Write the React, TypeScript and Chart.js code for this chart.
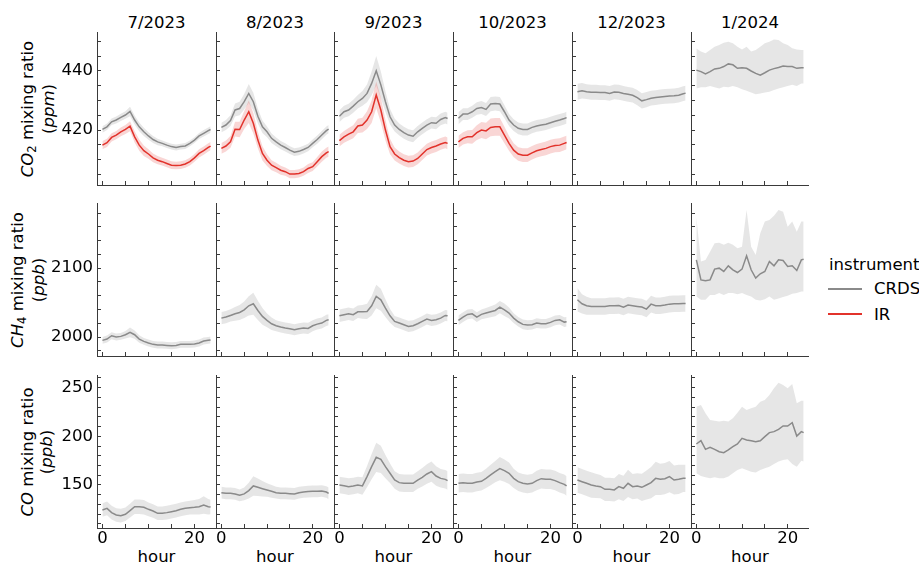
import React, { useEffect, useRef } from 'react';
import { Chart, registerables } from 'chart.js';

Chart.register(...registerables);

const FONT = "'DejaVu Sans', sans-serif";
const FS = 16.5;
const AXIS = '#3a3a3a';
const GRAY = { line: '#8a8a8a', band: 'rgba(128,128,128,0.2)' };
const RED = { line: '#e2322b', band: 'rgba(226,50,43,0.2)' };

// ---------- categories / ticks ----------
const HOURS = [0, 1, 2, 3, 4, 5, 6, 7, 8, 9, 10, 11, 12, 13, 14, 15, 16, 17, 18, 19, 20, 21, 22, 23, 23.5];
const MONTHS = ['7/2023', '8/2023', '9/2023', '10/2023', '12/2023', '1/2024'];
const X_TICKS = [0, 5, 10, 15, 20];
const X_LABELS = [0, 20];
const CO2_TICKS = [405, 410, 415, 420, 425, 430, 435, 440, 445, 450];
const CO2_LABELS = [420, 440];
const CH4_TICKS = [1980, 2000, 2020, 2040, 2060, 2080, 2100, 2120, 2140, 2160, 2180];
const CH4_LABELS = [2000, 2100];
const CO_TICKS = [110, 120, 130, 140, 150, 160, 170, 180, 190, 200, 210, 220, 230, 240, 250, 260];
const CO_LABELS = [150, 200, 250];

// ---------- CO2 (ppm) ----------
const CO2_JUL_CRDS = [420.2, 421.1, 422.8, 423.4, 424.3, 425.1, 426.3, 423.4, 421.1, 419.4, 418.0, 416.8, 416.0, 415.5, 414.9, 414.4, 414.1, 414.4, 414.6, 415.5, 416.6, 418.0, 418.9, 419.8, 420.2];
const CO2_JUL_CRDS_SD = [1.1, 1.1, 1.1, 1.2, 1.2, 1.3, 1.6, 1.5, 1.5, 1.4, 1.3, 1.2, 1.1, 1.0, 1.0, 1.0, 1.0, 1.0, 1.0, 1.0, 1.0, 1.0, 1.1, 1.1, 1.1];
const CO2_JUL_IR = [414.9, 415.7, 417.5, 418.3, 419.4, 420.2, 421.3, 417.7, 414.9, 413.0, 411.9, 410.6, 409.8, 409.3, 408.7, 408.1, 408.0, 408.1, 408.5, 409.3, 410.6, 412.1, 413.0, 414.1, 414.6];
const CO2_JUL_IR_SD = [1.4, 1.4, 1.4, 1.4, 1.5, 1.5, 1.7, 1.9, 1.9, 1.8, 1.6, 1.5, 1.4, 1.3, 1.3, 1.3, 1.3, 1.3, 1.3, 1.3, 1.3, 1.4, 1.4, 1.4, 1.4];

const CO2_AUG_CRDS = [420.9, 421.7, 423.2, 426.8, 427.3, 429.6, 432.4, 429.6, 424.7, 421.1, 419.4, 417.2, 416.0, 414.9, 414.1, 413.2, 412.5, 412.8, 413.4, 414.1, 415.5, 416.8, 418.3, 419.8, 420.3];
const CO2_AUG_CRDS_SD = [1.6, 1.7, 1.8, 2.2, 2.3, 2.6, 3.2, 3.0, 2.5, 2.1, 1.8, 1.6, 1.5, 1.4, 1.4, 1.3, 1.3, 1.3, 1.3, 1.3, 1.3, 1.4, 1.4, 1.4, 1.4];
const CO2_AUG_IR = [413.8, 414.6, 416.0, 420.3, 420.2, 423.4, 426.2, 422.3, 416.6, 412.1, 409.8, 408.1, 407.3, 406.4, 405.9, 405.1, 405.1, 405.3, 405.9, 407.0, 407.6, 409.3, 411.0, 412.3, 412.7];
const CO2_AUG_IR_SD = [1.8, 1.9, 2.0, 2.5, 2.6, 3.0, 3.8, 3.5, 2.8, 2.4, 2.0, 1.7, 1.6, 1.5, 1.4, 1.4, 1.4, 1.4, 1.4, 1.5, 1.5, 1.6, 1.7, 1.7, 1.7];

const CO2_SEP_CRDS = [424.7, 426.2, 426.8, 428.1, 429.6, 430.7, 432.4, 435.8, 440.1, 435.3, 429.6, 424.5, 421.7, 420.2, 419.1, 418.3, 417.9, 419.4, 420.6, 421.7, 422.5, 422.3, 423.6, 424.2, 423.9];
const CO2_SEP_CRDS_SD = [2.0, 2.0, 2.1, 2.2, 2.3, 2.5, 3.0, 4.0, 5.0, 4.5, 3.5, 2.6, 2.2, 2.0, 2.0, 2.0, 2.0, 2.0, 2.0, 2.0, 2.0, 2.0, 2.0, 2.0, 2.0];
const CO2_SEP_IR = [416.4, 417.7, 418.6, 419.4, 421.4, 421.7, 423.4, 426.2, 431.9, 426.8, 420.0, 414.4, 411.9, 410.7, 409.8, 409.3, 409.5, 410.4, 411.9, 413.4, 414.1, 414.6, 415.3, 415.8, 415.5];
const CO2_SEP_IR_SD = [2.0, 2.0, 2.1, 2.2, 2.4, 2.5, 3.0, 3.8, 4.5, 4.2, 3.5, 2.6, 2.2, 2.0, 2.0, 2.0, 2.0, 2.0, 2.0, 2.0, 2.0, 2.0, 2.0, 2.0, 2.0];

const CO2_OCT_CRDS = [424.0, 425.4, 425.4, 426.2, 427.3, 427.6, 427.0, 428.8, 429.0, 428.8, 426.2, 423.4, 421.7, 420.6, 420.2, 420.2, 420.9, 421.4, 421.7, 422.0, 422.5, 423.0, 423.4, 423.9, 424.2];
const CO2_OCT_CRDS_SD = [2.0, 2.0, 2.0, 2.0, 2.1, 2.2, 2.2, 2.4, 2.4, 2.4, 2.2, 2.0, 2.0, 2.0, 2.0, 2.0, 2.0, 2.0, 2.0, 2.0, 2.0, 2.0, 2.0, 2.0, 2.0];
const CO2_OCT_IR = [416.0, 417.2, 417.7, 417.7, 419.1, 420.0, 419.7, 420.9, 421.1, 421.1, 418.3, 415.5, 413.2, 411.9, 411.5, 411.5, 412.3, 413.0, 413.4, 413.8, 414.4, 414.8, 414.9, 415.5, 415.8];
const CO2_OCT_IR_SD = [2.1, 2.1, 2.2, 2.3, 2.5, 2.7, 2.8, 3.0, 3.0, 3.0, 2.8, 2.5, 2.3, 2.3, 2.3, 2.3, 2.3, 2.3, 2.3, 2.3, 2.3, 2.3, 2.3, 2.3, 2.3];

const CO2_DEC_CRDS = [433.0, 433.3, 433.0, 432.8, 432.8, 432.7, 432.7, 432.4, 432.9, 432.8, 432.4, 432.1, 431.8, 431.0, 429.9, 430.3, 430.8, 431.0, 431.2, 431.4, 431.5, 431.6, 431.8, 432.3, 432.5];
const CO2_DEC_CRDS_SD = [2.7, 2.6, 2.5, 2.5, 2.5, 2.5, 2.5, 2.5, 2.5, 2.5, 2.5, 2.5, 2.5, 2.6, 2.6, 2.6, 2.5, 2.5, 2.5, 2.5, 2.5, 2.5, 2.5, 2.5, 2.5];

const CO2_JAN_CRDS = [440.3, 439.8, 439.0, 439.8, 440.7, 440.9, 441.5, 442.4, 442.1, 440.9, 441.1, 440.9, 440.0, 439.2, 438.6, 439.4, 440.3, 440.8, 441.2, 441.7, 441.5, 441.5, 440.9, 441.1, 441.1];
const CO2_JAN_CRDS_HI = [447.6, 446.6, 446.0, 447.1, 448.2, 448.8, 449.6, 449.9, 449.4, 448.2, 447.3, 448.2, 446.6, 447.1, 448.2, 449.4, 449.9, 450.7, 450.5, 449.4, 448.8, 447.7, 447.3, 447.1, 447.1];
const CO2_JAN_CRDS_LO = [434.1, 434.5, 434.5, 434.9, 434.5, 434.1, 434.7, 434.5, 434.9, 434.5, 433.8, 433.3, 432.7, 432.1, 432.4, 432.7, 433.0, 433.6, 434.1, 434.5, 434.9, 435.3, 434.9, 435.8, 435.8];

// ---------- CH4 (ppb) ----------
const CH4_JUL = [1995.2, 1997.1, 2001.9, 2000.0, 2001.0, 2003.4, 2006.8, 2003.4, 1997.1, 1993.7, 1991.3, 1989.4, 1988.4, 1988.4, 1987.9, 1987.4, 1987.9, 1989.4, 1989.4, 1989.4, 1989.9, 1991.3, 1994.2, 1995.2, 1995.7];
const CH4_JUL_SD = [5, 5, 5, 5, 5, 5.5, 7, 6, 5.5, 5, 5, 5, 5, 5, 5, 5, 5, 5, 5, 5, 5, 5, 5, 5, 5];
const CH4_AUG = [2027.5, 2029.0, 2031.4, 2033.8, 2035.7, 2039.6, 2045.4, 2048.3, 2038.6, 2030.0, 2024.2, 2019.3, 2016.4, 2014.5, 2013.0, 2012.1, 2010.6, 2012.1, 2013.0, 2012.6, 2016.4, 2018.8, 2020.3, 2024.2, 2025.1];
const CH4_AUG_SD = [9, 9, 9, 10, 11, 12, 14, 16, 14, 12, 10, 9, 8, 8, 8, 8, 8, 8, 8, 8, 8, 8, 8, 8, 8];
const CH4_SEP = [2030.9, 2032.4, 2033.8, 2032.4, 2036.7, 2036.7, 2037.2, 2045.4, 2058.9, 2054.1, 2042.0, 2030.9, 2022.7, 2020.3, 2017.9, 2015.5, 2016.4, 2019.3, 2022.7, 2026.1, 2024.2, 2025.1, 2027.5, 2031.4, 2030.9];
const CH4_SEP_SD = [9, 9, 9, 9, 9, 10, 11, 14, 17, 16, 13, 10, 8, 8, 8, 8, 8, 8, 8, 8, 8, 8, 8, 8, 8];
const CH4_OCT = [2024.2, 2029.0, 2032.9, 2033.8, 2029.0, 2032.9, 2034.8, 2036.7, 2038.6, 2043.5, 2039.6, 2034.8, 2027.5, 2022.2, 2018.4, 2017.4, 2017.9, 2020.3, 2019.3, 2019.3, 2021.3, 2024.2, 2025.1, 2021.7, 2022.2];
const CH4_OCT_SD = [7, 7, 7, 7, 7, 7, 7.5, 8, 8.5, 9, 9, 8, 7, 7, 7, 7, 7, 7, 7, 7, 7, 7, 7, 7, 7];
const CH4_DEC = [2054.1, 2048.3, 2045.4, 2044.4, 2044.4, 2044.4, 2044.4, 2045.4, 2045.4, 2045.9, 2043.5, 2046.4, 2045.4, 2044.4, 2043.5, 2040.6, 2047.8, 2045.4, 2045.4, 2046.4, 2047.8, 2048.3, 2048.3, 2048.8, 2048.8];
const CH4_DEC_SD = [17, 14, 13, 12, 12, 12, 12, 12, 12, 12, 12, 12, 12, 12, 12, 12, 12, 12, 12, 12, 12, 12, 12, 12, 12];
const CH4_JAN = [2112.0, 2083.0, 2081.6, 2083.0, 2098.6, 2100.0, 2095.2, 2103.4, 2097.6, 2093.7, 2098.6, 2117.9, 2097.6, 2085.5, 2091.8, 2095.2, 2109.7, 2103.4, 2112.1, 2111.1, 2102.4, 2103.4, 2096.6, 2112.0, 2113.0];
const CH4_JAN_HI = [2174, 2109.7, 2112, 2124, 2136, 2137, 2134, 2137, 2134, 2129, 2131, 2184.5, 2131, 2119, 2150.7, 2167.6, 2170, 2176, 2184.5, 2182, 2160, 2167.6, 2153, 2167.6, 2167.6];
const CH4_JAN_LO = [2059, 2054, 2054, 2061, 2061, 2063.8, 2061, 2063.8, 2063.8, 2062.3, 2063.8, 2061, 2059, 2054, 2053, 2055, 2059, 2054, 2056, 2058, 2060, 2062.8, 2063.8, 2066, 2066];

// ---------- CO (ppb) ----------
const CO_JUL = [124.3, 126.0, 121.6, 119.2, 118.5, 119.9, 123.6, 127.7, 127.7, 127.1, 125.0, 123.3, 120.9, 120.9, 121.6, 122.6, 123.6, 125.0, 126.0, 126.7, 127.1, 127.7, 129.5, 127.7, 127.4];
const CO_JUL_SD = [7, 7, 7, 7, 7, 7, 7, 7.5, 7.5, 7.5, 7, 7, 7, 7, 7, 7, 7, 7, 7, 7, 7.5, 8, 9, 8, 7.5];
const CO_AUG = [142.1, 141.4, 141.4, 140.8, 139.4, 140.8, 144.2, 149.0, 147.6, 146.2, 144.9, 143.5, 142.1, 141.4, 141.4, 141.1, 140.8, 142.1, 142.8, 143.2, 143.5, 143.5, 143.8, 142.8, 141.4];
const CO_AUG_SD = [6, 6, 6, 6, 6, 6.5, 8, 10, 9, 8, 7, 6.5, 6, 6, 6, 6, 6, 6, 6, 6, 6, 6, 6, 6, 6];
const CO_SEP = [150.0, 149.3, 148.3, 149.0, 150.0, 149.0, 158.6, 168.8, 178.4, 176.4, 168.8, 162.0, 155.1, 152.4, 151.7, 151.7, 151.7, 155.1, 157.9, 161.3, 163.7, 159.2, 156.8, 155.8, 154.5];
const CO_SEP_SD = [8.5, 8.5, 8.5, 8.5, 8.5, 9, 11, 13, 15, 14, 12, 10, 9, 9, 9, 9, 9, 9, 9.5, 10, 10.5, 10, 9.5, 9.5, 9.5];
const CO_OCT = [151.7, 152.4, 151.7, 151.7, 153.1, 153.8, 156.8, 160.3, 163.7, 166.8, 164.7, 162.0, 156.8, 153.4, 151.7, 151.0, 151.7, 154.5, 156.5, 155.8, 155.8, 154.5, 152.4, 150.7, 149.0];
const CO_OCT_SD = [9.5, 9.5, 9.5, 9.5, 9.5, 9.5, 10, 10.5, 11, 12, 11.5, 11, 10, 9.5, 9.5, 9.5, 9.5, 10, 10, 10, 10, 10, 10, 10, 10];
const CO_DEC = [155.1, 153.4, 151.7, 150.0, 149.0, 148.3, 145.5, 145.5, 144.9, 148.3, 146.6, 151.7, 148.3, 149.0, 147.6, 150.0, 152.4, 156.8, 155.8, 156.5, 158.6, 155.1, 155.8, 156.8, 156.8];
const CO_DEC_SD = [13, 13, 13, 13, 12.5, 12, 12, 12, 12, 13, 13, 14, 13, 13, 14, 15, 16, 17, 16, 16, 16, 15, 15, 14, 14];
const CO_JAN = [192.1, 195.5, 186.6, 188.7, 186.6, 184.2, 183.2, 186.0, 189.4, 192.1, 197.9, 196.2, 195.5, 194.5, 195.5, 199.7, 203.8, 204.8, 207.2, 210.6, 210.6, 214.0, 200.3, 204.8, 203.8];
const CO_JAN_HI = [230.5, 232.2, 223.6, 216.8, 216.1, 215.1, 216.1, 215.1, 218.5, 224.3, 230.5, 227.1, 228.8, 230.5, 235.6, 237.3, 242.5, 249.3, 255.1, 252.7, 249.3, 253.8, 233.9, 236.6, 236.6];
const CO_JAN_LO = [162.0, 159.2, 157.9, 156.8, 157.9, 156.8, 156.8, 158.6, 162.0, 165.4, 167.1, 165.4, 163.7, 162.7, 165.4, 167.1, 168.8, 171.6, 174.0, 175.7, 176.4, 171.6, 168.8, 175.0, 174.0];

type Series = { mean: number[]; sd?: number[]; lo?: number[]; hi?: number[] };
type RowDef = { min: number; max: number; ticks: number[]; labels: number[]; panels: Series[][] };

const ROWS: RowDef[] = [
  {
    min: 401.4, max: 453.2, ticks: CO2_TICKS, labels: CO2_LABELS,
    panels: [
      [{ mean: CO2_JUL_CRDS, sd: CO2_JUL_CRDS_SD }, { mean: CO2_JUL_IR, sd: CO2_JUL_IR_SD }],
      [{ mean: CO2_AUG_CRDS, sd: CO2_AUG_CRDS_SD }, { mean: CO2_AUG_IR, sd: CO2_AUG_IR_SD }],
      [{ mean: CO2_SEP_CRDS, sd: CO2_SEP_CRDS_SD }, { mean: CO2_SEP_IR, sd: CO2_SEP_IR_SD }],
      [{ mean: CO2_OCT_CRDS, sd: CO2_OCT_CRDS_SD }, { mean: CO2_OCT_IR, sd: CO2_OCT_IR_SD }],
      [{ mean: CO2_DEC_CRDS, sd: CO2_DEC_CRDS_SD }],
      [{ mean: CO2_JAN_CRDS, lo: CO2_JAN_CRDS_LO, hi: CO2_JAN_CRDS_HI }],
    ],
  },
  {
    min: 1972.5, max: 2194.6, ticks: CH4_TICKS, labels: CH4_LABELS,
    panels: [
      [{ mean: CH4_JUL, sd: CH4_JUL_SD }],
      [{ mean: CH4_AUG, sd: CH4_AUG_SD }],
      [{ mean: CH4_SEP, sd: CH4_SEP_SD }],
      [{ mean: CH4_OCT, sd: CH4_OCT_SD }],
      [{ mean: CH4_DEC, sd: CH4_DEC_SD }],
      [{ mean: CH4_JAN, lo: CH4_JAN_LO, hi: CH4_JAN_HI }],
    ],
  },
  {
    min: 105.8, max: 263.0, ticks: CO_TICKS, labels: CO_LABELS,
    panels: [
      [{ mean: CO_JUL, sd: CO_JUL_SD }],
      [{ mean: CO_AUG, sd: CO_AUG_SD }],
      [{ mean: CO_SEP, sd: CO_SEP_SD }],
      [{ mean: CO_OCT, sd: CO_OCT_SD }],
      [{ mean: CO_DEC, sd: CO_DEC_SD }],
      [{ mean: CO_JAN, lo: CO_JAN_LO, hi: CO_JAN_HI }],
    ],
  },
];

// ---------- layout ----------
const COL_EDGES = [97, 216, 334, 453, 572, 691, 809];
const ROW_TOPS = [32, 203, 375];
const PH = 153;
const YW = 60;
const PT = 24;
const HX = 34;

const pts = (ys: number[]) => ys.map((y, i) => ({ x: HOURS[i], y }));

function Panel({ row, col }: { row: number; col: number }) {
  const ref = useRef<HTMLCanvasElement>(null);
  const pw = COL_EDGES[col + 1] - COL_EDGES[col];
  const W = YW + pw;
  const H = PT + PH + HX;
  useEffect(() => {
    const r = ROWS[row];
    const series = r.panels[col];
    const datasets: any[] = [];
    series.forEach((s, k) => {
      const c = k === 0 ? GRAY : RED;
      const lo = s.lo ?? s.mean.map((v, i) => v - (s.sd as number[])[i]);
      const hi = s.hi ?? s.mean.map((v, i) => v + (s.sd as number[])[i]);
      datasets.push({ data: pts(lo), borderColor: 'transparent', borderWidth: 0, pointRadius: 0, fill: false, order: 10 - k });
      datasets.push({ data: pts(hi), borderColor: 'transparent', borderWidth: 0, pointRadius: 0, fill: '-1', backgroundColor: c.band, order: 10 - k });
    });
    series.forEach((s, k) => {
      const c = k === 0 ? GRAY : RED;
      datasets.push({ data: pts(s.mean), borderColor: c.line, borderWidth: 1.5, pointRadius: 0, fill: false, order: 5 - k });
    });
    const zeroPad = (s: any) => { s.paddingTop = 0; s.paddingBottom = 0; s.paddingLeft = 0; s.paddingRight = 0; };
    const chart = new Chart(ref.current as HTMLCanvasElement, {
      type: 'line',
      data: { datasets },
      options: {
        animation: false,
        responsive: false,
        maintainAspectRatio: false,
        devicePixelRatio: 1,
        layout: { padding: { top: PT, left: 0, right: 0, bottom: 0 } },
        plugins: { legend: { display: false }, tooltip: { enabled: false }, title: { display: false } },
        elements: { line: { tension: 0 }, point: { radius: 0 } },
        scales: {
          x: {
            type: 'linear', min: -1.175, max: 24.675,
            afterBuildTicks: (s: any) => { s.ticks = X_TICKS.map((v) => ({ value: v })); },
            afterFit: (s: any) => { s.height = HX; zeroPad(s); },
            ticks: {
              autoSkip: false, maxRotation: 0, minRotation: 0, padding: 5, color: '#000',
              font: { family: FONT, size: FS },
              callback: (v: any) => (row === 2 && X_LABELS.includes(Number(v)) ? String(v) : ''),
            },
            grid: { display: true, drawOnChartArea: false, drawTicks: true, tickLength: -4, tickColor: AXIS, tickWidth: 1 },
            border: { display: true, color: AXIS, width: 1 },
          },
          y: {
            type: 'linear', min: r.min, max: r.max,
            afterBuildTicks: (s: any) => { s.ticks = r.ticks.map((v) => ({ value: v })); },
            afterFit: (s: any) => { s.width = YW; zeroPad(s); },
            ticks: {
              autoSkip: false, padding: 8, color: '#000',
              font: { family: FONT, size: FS },
              callback: (v: any) => (col === 0 && r.labels.includes(Number(v)) ? String(v) : ''),
            },
            grid: { display: true, drawOnChartArea: false, drawTicks: true, tickLength: -4, tickColor: AXIS, tickWidth: 1 },
            border: { display: true, color: AXIS, width: 1 },
          },
        },
      } as any,
    });
    return () => chart.destroy();
  }, [row, col]);
  return (
    <canvas
      ref={ref}
      width={W}
      height={H}
      style={{ position: 'absolute', left: COL_EDGES[col] - YW, top: ROW_TOPS[row] - PT, width: W, height: H }}
    />
  );
}

const textBase: React.CSSProperties = {
  position: 'absolute', fontFamily: FONT, fontSize: FS, lineHeight: '20px', color: '#000', whiteSpace: 'nowrap',
};

function YLabel({ cx, cy, first, unit }: { cx: number; cy: number; first: React.ReactNode; unit: string }) {
  return (
    <div style={{ ...textBase, left: cx - 110, top: cy - 19, width: 220, height: 38, lineHeight: '19px', textAlign: 'center', transform: 'rotate(-90deg)' }}>
      <div>{first}</div>
      <div>(<i>{unit}</i>)</div>
    </div>
  );
}

const Sub = ({ t }: { t: string }) => (
  <span style={{ fontSize: '0.7em', position: 'relative', top: '0.3em' }}>{t}</span>
);

export default function App() {
  const cells: React.ReactNode[] = [];
  for (let r = 0; r < 3; r++) for (let c = 0; c < 6; c++) cells.push(<Panel key={`${r}-${c}`} row={r} col={c} />);
  return (
    <div style={{ position: 'absolute', left: 0, top: 0, width: 919, height: 562, overflow: 'hidden', background: '#fff' }}>
      {MONTHS.map((m, c) => (
        <div key={m} style={{ ...textBase, left: COL_EDGES[c], width: COL_EDGES[c + 1] - COL_EDGES[c], top: 12.6, textAlign: 'center' }}>{m}</div>
      ))}
      {MONTHS.map((m, c) => (
        <div key={'h' + m} style={{ ...textBase, left: COL_EDGES[c], width: COL_EDGES[c + 1] - COL_EDGES[c], top: 546.8, textAlign: 'center' }}>hour</div>
      ))}
      <YLabel cx={37} cy={108.5} first={<><i>CO</i><Sub t="2" /> mixing ratio</>} unit="ppm" />
      <YLabel cx={26.5} cy={279.5} first={<><i>CH</i><Sub t="4" /> mixing ratio</>} unit="ppb" />
      <YLabel cx={37} cy={451.5} first={<><i>CO</i> mixing ratio</>} unit="ppb" />
      {cells}
      <div style={{ ...textBase, left: 829, top: 255.3 }}>instrument</div>
      <div style={{ position: 'absolute', left: 828, top: 288.2, width: 34, height: 1.6, background: GRAY.line }} />
      <div style={{ ...textBase, left: 874, top: 279.3 }}>CRDS</div>
      <div style={{ position: 'absolute', left: 828, top: 313.2, width: 34, height: 1.6, background: RED.line }} />
      <div style={{ ...textBase, left: 874, top: 305 }}>IR</div>
    </div>
  );
}
